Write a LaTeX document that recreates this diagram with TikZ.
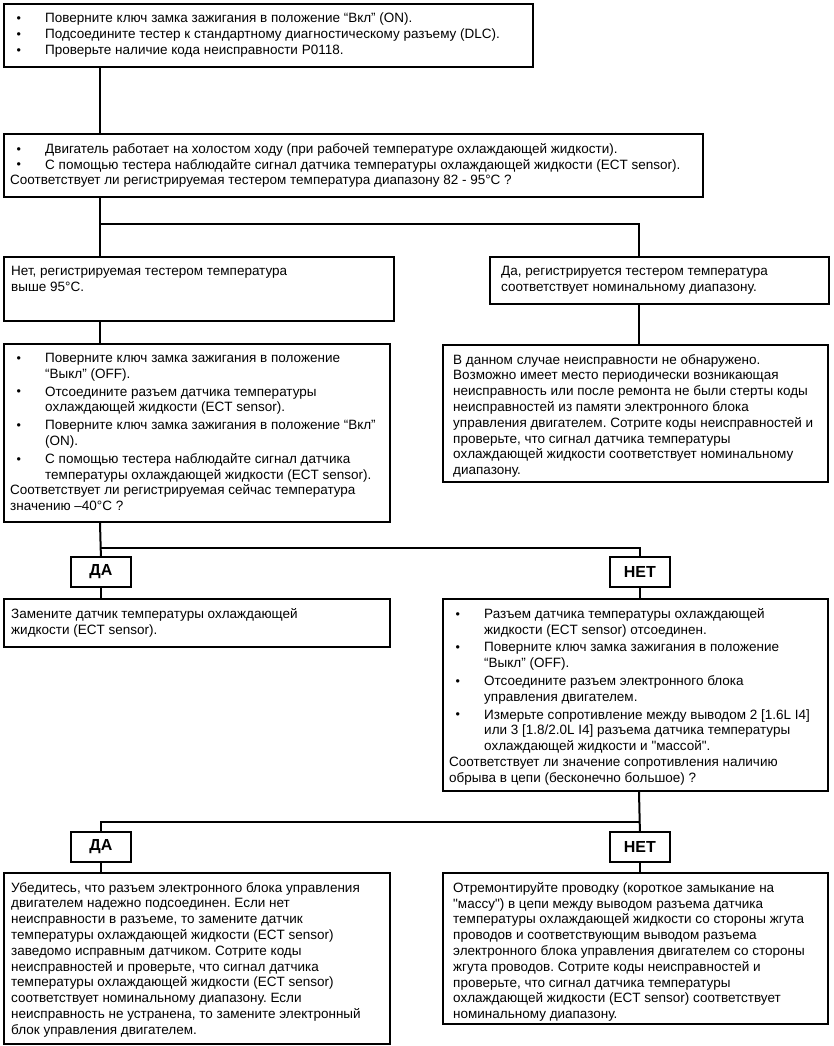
\documentclass[tikz,border=0pt]{standalone}
\usepackage{fontspec}
\newfontfamily\af{Liberation Sans}
\newcommand\bl{\makebox[35pt][l]{\hspace*{6.5pt}\raisebox{0.2pt}{\fontsize{12.5}{12.5}\selectfont •}}}
\newcommand\ind{\hspace*{35pt}}
\tikzset{
  box/.style={draw, line width=2pt, rectangle, inner sep=0pt, anchor=north west},
  txt/.style={align=left, inner sep=0pt, anchor=north west, font=\af\frenchspacing\fontsize{13.5}{15.8}\selectfont},
  lab/.style={draw, line width=1.8pt, rectangle, inner sep=0pt, minimum width=60pt, minimum height=30pt, font=\af\fontsize{16}{16}\selectfont\bfseries, anchor=north west},
  conn/.style={line width=2pt},
}
\begin{document}
\begin{tikzpicture}[x=1pt,y=-1pt]
\useasboundingbox (0,0) rectangle (834,1046);
\coordinate (xl) at (100,0);
\coordinate (xr) at (639,0);
% boxes
\node[box, minimum width=529pt, minimum height=63pt] (b1) at (3,3) {};
\node[box, minimum width=699pt, minimum height=63pt] (b2) at (3,133) {};
\node[box, minimum width=390pt, minimum height=64pt] (b3) at (3,256) {};
\node[box, minimum width=339pt, minimum height=47pt] (b4) at (489,256) {};
\node[box, minimum width=386pt, minimum height=178pt] (b5) at (3,343) {};
\node[box, minimum width=385pt, minimum height=137pt] (b6) at (442,344) {};
\node[lab] (da1) at (70,556) {ДА};
\node[lab] (net1) at (609,556) {НЕТ};
\node[box, minimum width=386pt, minimum height=48pt] (b7) at (3,598) {};
\node[box, minimum width=385pt, minimum height=192pt] (b8) at (442,598) {};
\node[lab] (da2) at (70,831) {ДА};
\node[lab] (net2) at (609,831) {НЕТ};
\node[box, minimum width=386pt, minimum height=171pt] (b9) at (3,872) {};
\node[box, minimum width=385pt, minimum height=151pt] (b10) at (442,872) {};
% texts
\node[txt] (t1) at ([shift={(7,10)}]b1.north west) {\bl Поверните ключ замка зажигания в положение “Вкл” (ON).\\
\bl Подсоедините тестер к стандартному диагностическому разъему (DLC).\\
\bl Проверьте наличие кода неисправности P0118.};
\node[txt] (t2) at ([shift={(7,10)}]b2.north west) {\bl Двигатель работает на холостом ходу (при рабочей температуре охлаждающей жидкости).\\
\bl С помощью тестера наблюдайте сигнал датчика температуры охлаждающей жидкости (ECT sensor).\\
Соответствует ли регистрируемая тестером температура диапазону 82 - 95°C ?};
\node[txt] (t3) at ([shift={(8,10)}]b3.north west) {Нет, регистрируемая тестером температура\\выше 95°C.};
\node[txt] (t4) at ([shift={(12,10)}]b4.north west) {Да, регистрируется тестером температура\\соответствует номинальному диапазону.};
\node[txt] (t5) at ([shift={(7,10)}]b5.north west) {\bl Поверните ключ замка зажигания в положение\\
\ind “Выкл” (OFF).\\[2pt]
\bl Отсоедините разъем датчика температуры\\
\ind охлаждающей жидкости (ECT sensor).\\[2pt]
\bl Поверните ключ замка зажигания в положение “Вкл”\\
\ind (ON).\\[2pt]
\bl С помощью тестера наблюдайте сигнал датчика\\
\ind температуры охлаждающей жидкости (ECT sensor).\\
Соответствует ли регистрируемая сейчас температура\\
значению –40°C ?};
\node[txt] (t6) at ([shift={(11,10)}]b6.north west) {В данном случае неисправности не обнаружено.\\
Возможно имеет место периодически возникающая\\
неисправность или после ремонта не были стерты коды\\
неисправностей из памяти электронного блока\\
управления двигателем. Сотрите коды неисправностей и\\
проверьте, что сигнал датчика температуры\\
охлаждающей жидкости соответствует номинальному\\
диапазону.};
\node[txt] (t7) at ([shift={(8,10)}]b7.north west) {Замените датчик температуры охлаждающей\\жидкости (ECT sensor).};
\node[txt] (t8) at ([shift={(7,10)}]b8.north west) {\bl Разъем датчика температуры охлаждающей\\
\ind жидкости (ECT sensor) отсоединен.\\[2pt]
\bl Поверните ключ замка зажигания в положение\\
\ind “Выкл” (OFF).\\[2pt]
\bl Отсоедините разъем электронного блока\\
\ind управления двигателем.\\[2pt]
\bl Измерьте сопротивление между выводом 2 [1.6L I4]\\
\ind или 3 [1.8/2.0L I4] разъема датчика температуры\\
\ind охлаждающей жидкости и "массой".\\
Соответствует ли значение сопротивления наличию\\
обрыва в цепи (бесконечно большое) ?};
\node[txt] (t9) at ([shift={(8,10)}]b9.north west) {Убедитесь, что разъем электронного блока управления\\
двигателем надежно подсоединен. Если нет\\
неисправности в разъеме, то замените датчик\\
температуры охлаждающей жидкости (ECT sensor)\\
заведомо исправным датчиком. Сотрите коды\\
неисправностей и проверьте, что сигнал датчика\\
температуры охлаждающей жидкости (ECT sensor)\\
соответствует номинальному диапазону. Если\\
неисправность не устранена, то замените электронный\\
блок управления двигателем.};
\node[txt] (t10) at ([shift={(11,10)}]b10.north west) {Отремонтируйте проводку (короткое замыкание на\\
"массу") в цепи между выводом разъема датчика\\
температуры охлаждающей жидкости со стороны жгута\\
проводов и соответствующим выводом разъема\\
электронного блока управления двигателем со стороны\\
жгута проводов. Сотрите коды неисправностей и\\
проверьте, что сигнал датчика температуры\\
охлаждающей жидкости (ECT sensor) соответствует\\
номинальному диапазону.};
% connectors
\coordinate (s1) at (100,224);
\coordinate (s2) at (100,548);
\coordinate (s3) at (639,822);
\draw[conn] (b1.south -| xl) -- (b2.north -| xl);
\draw[conn] (b2.south -| xl) -- (b3.north -| xl);
\draw[conn] (s1) -| (b4.north -| xr);
\draw[conn] (b3.south -| xl) -- (b5.north -| xl);
\draw[conn] (b4.south -| xr) -- (b6.north -| xr);
\draw[conn] (b5.south -| xl) -- (da1.north);
\draw[conn] (s2) -| (net1.north);
\draw[conn] (da1.south) -- (b7.north -| da1.south);
\draw[conn] (net1.south) -- (b8.north -| net1.south);
\draw[conn] (b8.south -| xr) -- (net2.north);
\draw[conn] (s3) -| (da2.north);
\draw[conn] (da2.south) -- (b9.north -| da2.south);
\draw[conn] (net2.south) -- (b10.north -| net2.south);
\end{tikzpicture}
\end{document}
